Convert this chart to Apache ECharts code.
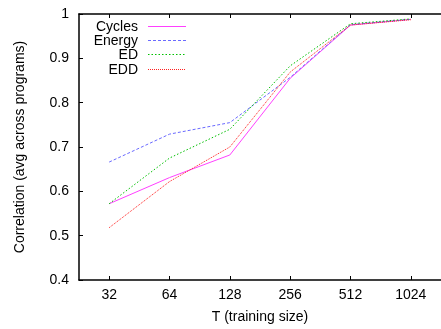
<!DOCTYPE html>
<html>
<head>
<meta charset="utf-8">
<script src="https://cdn.jsdelivr.net/npm/echarts@6/dist/echarts.min.js"></script>
<style>
  html, body { margin: 0; padding: 0; background: #fff; }
  #chart { width: 441px; height: 329px; }
</style>
</head>
<body>
<div id="chart"></div>
<script>
// Training sizes on the x axis
const trainingSizes = ['32', '64', '128', '256', '512', '1024'];

// Average correlation across programs for each model
const cycles = [0.572, 0.631, 0.682, 0.855, 0.975, 0.988];
const energy = [0.666, 0.729, 0.755, 0.857, 0.976, 0.988];
const ed     = [0.572, 0.675, 0.740, 0.883, 0.978, 0.989];
const edd    = [0.518, 0.622, 0.700, 0.869, 0.975, 0.987];

const FONT = '"Liberation Sans", Arial, Helvetica, sans-serif';
const chart = echarts.init(document.getElementById('chart'), null, { renderer: 'canvas' });

// name, values, colour, dash pattern
const models = [
  ['Cycles', cycles, '#ff40ff', 'solid'],
  ['Energy', energy, '#6a6aff', [3, 2]],
  ['ED', ed, '#00c000', [1.5, 2]],
  ['EDD', edd, '#ff2020', [1, 1]]
];

function lineSeries(m) {
  return {
    name: m[0],
    type: 'line',
    data: m[1],
    symbol: 'none',
    animation: false,
    lineStyle: { color: m[2], width: 1, type: m[3] },
    itemStyle: { color: m[2] },
    emphasis: { disabled: true }
  };
}

// Key in the upper-left corner: right-aligned names with a line sample after each
const KEY_TEXT_RIGHT = 138, KEY_LINE_X0 = 148, KEY_LINE_X1 = 186, KEY_Y0 = 25.5, KEY_ROW = 14.4;
const keyElements = [];
models.forEach(function (m, i) {
  const y = Math.round(KEY_Y0 + i * KEY_ROW);
  keyElements.push({
    type: 'text',
    x: KEY_TEXT_RIGHT, y: y + 1,
    style: { text: m[0], fill: '#000', font: '14px ' + FONT, align: 'right', verticalAlign: 'middle' },
    silent: true
  });
  const lineStyle = { stroke: m[2], lineWidth: 1 };
  if (m[3] !== 'solid') lineStyle.lineDash = m[3];
  keyElements.push({
    type: 'line',
    shape: { x1: KEY_LINE_X0, y1: y + 0.5, x2: KEY_LINE_X1, y2: y + 0.5 },
    style: lineStyle,
    silent: true
  });
});

const axisText = { color: '#000', fontFamily: FONT, fontSize: 14 };

chart.setOption({
  backgroundColor: '#fff',
  animation: false,
  grid: { left: 79, top: 14, right: -10, bottom: 46, containLabel: false },
  graphic: keyElements,
  xAxis: [{
    type: 'category',
    data: trainingSizes,
    boundaryGap: true,
    name: 'T (training size)',
    nameLocation: 'middle',
    nameGap: 30,
    nameTextStyle: axisText,
    axisLine: { show: true, lineStyle: { color: '#000', width: 1.5 } },
    axisTick: { show: true, inside: true, length: 4, alignWithLabel: true, lineStyle: { color: '#000' } },
    axisLabel: Object.assign({ margin: 8 }, axisText),
    splitLine: { show: false }
  }, {
    type: 'category',
    data: trainingSizes,
    position: 'top',
    boundaryGap: true,
    axisLine: { show: true, lineStyle: { color: '#000', width: 1.5 } },
    axisTick: { show: true, inside: true, length: 4, alignWithLabel: true, lineStyle: { color: '#000' } },
    axisLabel: { show: false },
    splitLine: { show: false }
  }],
  yAxis: {
    type: 'value',
    min: 0.4,
    max: 1,
    interval: 0.1,
    name: 'Correlation (avg across programs)',
    nameLocation: 'middle',
    nameGap: 52,
    nameTextStyle: axisText,
    axisLine: { show: true, lineStyle: { color: '#000', width: 1.5 } },
    axisTick: { show: true, inside: true, length: 4, lineStyle: { color: '#000' } },
    axisLabel: Object.assign({
      margin: 10,
      formatter: function (v) { return String(parseFloat(v.toFixed(1))); }
    }, axisText),
    splitLine: { show: false }
  },
  series: models.map(lineSeries)
});
</script>
</body>
</html>
